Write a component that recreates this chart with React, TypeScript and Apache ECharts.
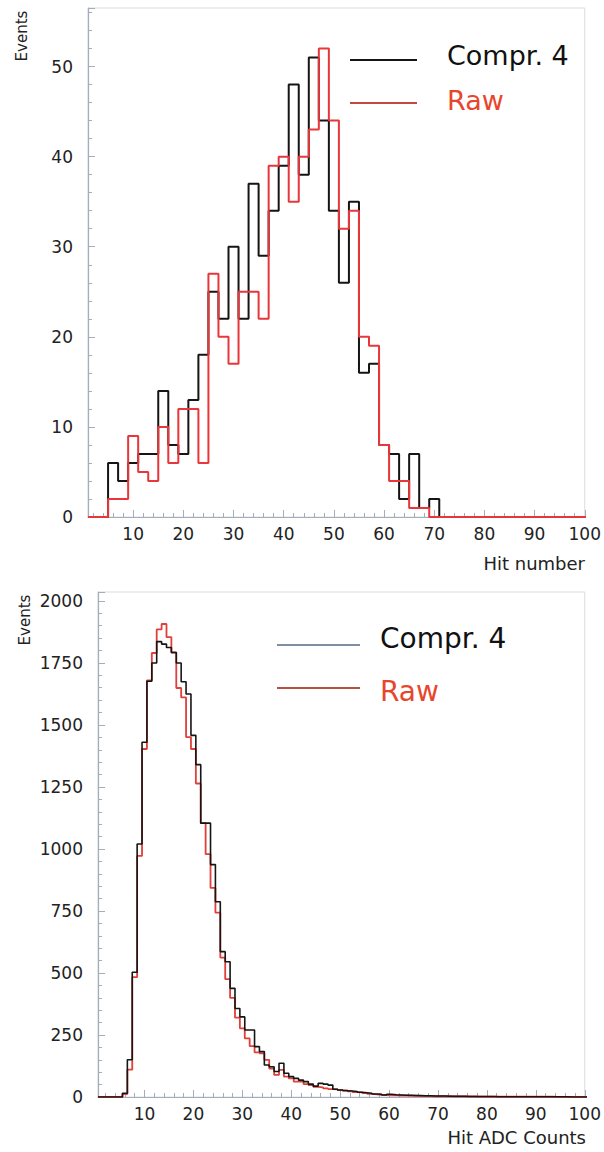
import React, { useEffect, useRef } from "react";
import * as echarts from "echarts";

// ---------- Top panel: hit number histogram (bin width 2, first bin starts at 1) ----------
const topBinStart = 1;
const topBinWidth = 2;
const topCompr = [
  0, 0, 6, 4, 6, 7, 7, 14, 8, 7,
  13, 18, 25, 22, 30, 22, 37, 29, 34, 39,
  48, 38, 51, 44, 34, 26, 35, 16, 17, 8,
  7, 2, 7, 1, 2, 0, 0, 0, 0, 0,
  0, 0, 0, 0, 0, 0, 0, 0, 0, 0,
];
const topRaw = [
  0, 0, 2, 2, 9, 5, 4, 10, 6, 12,
  12, 6, 27, 20, 17, 25, 25, 22, 39, 40,
  35, 40, 43, 52, 44, 32, 34, 20, 19, 8,
  4, 4, 1, 1, 0, 0, 0, 0, 0, 0,
  0, 0, 0, 0, 0, 0, 0, 0, 0, 0,
];

// ---------- Bottom panel: hit ADC counts histogram (bin width 1, centred on integers 1..100) ----------
const botBinStart = 0.5;
const botBinWidth = 1;
const botCompr = [
  0, 0, 0, 0, 0, 15, 150, 503, 1020, 1430,
  1676, 1750, 1836, 1826, 1812, 1792, 1750, 1674, 1625, 1458,
  1340, 1104, 1104, 937, 787, 586, 545, 438, 357, 323,
  270, 270, 203, 183, 129, 122, 103, 136, 96, 82,
  75, 68, 62, 52, 44, 55, 52, 48, 31, 28,
  25, 24, 22, 19, 17, 15, 12, 11, 8, 11,
  9, 8, 7, 7, 6, 6, 5, 5, 4, 4,
  4, 3, 3, 3, 3, 2, 2, 2, 2, 2,
  2, 1, 1, 1, 1, 1, 1, 1, 1, 1,
  1, 1, 1, 1, 1, 1, 0, 0, 0, 0,
];
const botRaw = [
  0, 0, 0, 0, 0, 12, 110, 483, 972, 1403,
  1680, 1790, 1885, 1907, 1854, 1792, 1649, 1611, 1451, 1403,
  1264, 1104, 979, 843, 743, 562, 475, 400, 320, 277,
  236, 205, 180, 176, 150, 115, 89, 109, 82, 75,
  62, 62, 52, 48, 41, 39, 35, 32, 31, 28,
  27, 23, 20, 19, 16, 13, 11, 9, 8, 7,
  7, 6, 6, 5, 5, 4, 4, 4, 3, 3,
  3, 3, 2, 2, 2, 2, 2, 1, 1, 1,
  1, 1, 1, 1, 1, 1, 1, 1, 1, 1,
  1, 1, 1, 0, 0, 0, 0, 0, 0, 0,
];

const seriesNames = ["Compr. 4", "Raw"];
const topXTitle = "Hit number";
const botXTitle = "Hit ADC Counts";
const yTitle = "Events";

function histPoints(values: number[], start: number, width: number) {
  const pts: number[][] = values.map((v, i) => [start + i * width, v]);
  pts.push([start + values.length * width, values[values.length - 1]]);
  return pts;
}

const FONT = "DejaVu Sans";
const AXIS_COL = "#a3adbb";

function xAxisCfg(gridIndex: number, min: number) {
  return {
    type: "value",
    gridIndex,
    min,
    max: 100,
    splitNumber: 10,
    axisLine: { show: true, lineStyle: { color: AXIS_COL, width: 1.2 } },
    axisTick: { show: true, inside: true, length: 7, lineStyle: { color: AXIS_COL } },
    minorTick: { show: true, splitNumber: 5, length: 4, lineStyle: { color: AXIS_COL } },
    splitLine: { show: false },
    axisLabel: {
      showMinLabel: false,
      fontSize: 17,
      color: "#222",
      fontFamily: FONT,
      margin: 8,
      formatter: (v: number) => String(v),
    },
  };
}

function yAxisCfg(gridIndex: number, max: number, interval: number) {
  return {
    type: "value",
    gridIndex,
    min: 0,
    max,
    interval,
    axisLine: { show: true, lineStyle: { color: AXIS_COL, width: 1.2 } },
    axisTick: { show: true, inside: true, length: 7, lineStyle: { color: AXIS_COL } },
    minorTick: { show: true, splitNumber: 5, length: 4, lineStyle: { color: AXIS_COL } },
    splitLine: { show: false },
    axisLabel: {
      showMaxLabel: false,
      fontSize: 17,
      color: "#222",
      fontFamily: FONT,
      margin: 15,
      formatter: (v: number) => String(v),
    },
  };
}

export default function App() {
  const ref = useRef<HTMLDivElement>(null);

  useEffect(() => {
    if (!ref.current) return;
    const chart = echarts.init(ref.current, undefined, { renderer: "svg" });

    const option = {
      animation: false,
      backgroundColor: "#ffffff",
      grid: [
        { left: 88, top: 8, width: 497, height: 509, show: true, borderColor: "#dcdcdc", borderWidth: 1, backgroundColor: "transparent" },
        { left: 98, top: 592, width: 488, height: 505, show: true, borderColor: "#dcdcdc", borderWidth: 1, backgroundColor: "transparent" },
      ],
      xAxis: [xAxisCfg(0, 1), xAxisCfg(1, 0.5)],
      yAxis: [yAxisCfg(0, 56.5, 10), yAxisCfg(1, 2036, 250)],
      series: [
        {
          name: seriesNames[0],
          type: "line",
          xAxisIndex: 0,
          yAxisIndex: 0,
          step: "end",
          symbol: "none",
          lineStyle: { color: "#151515", width: 2 },
          data: histPoints(topCompr, topBinStart, topBinWidth),
          z: 2,
        },
        {
          name: seriesNames[1],
          type: "line",
          xAxisIndex: 0,
          yAxisIndex: 0,
          step: "end",
          symbol: "none",
          lineStyle: { color: "#e8373a", width: 2 },
          data: histPoints(topRaw, topBinStart, topBinWidth),
          z: 3,
        },
        {
          name: seriesNames[1],
          type: "line",
          xAxisIndex: 1,
          yAxisIndex: 1,
          step: "end",
          symbol: "none",
          lineStyle: { color: "#e0403a", width: 1.8 },
          data: histPoints(botRaw, botBinStart, botBinWidth),
          z: 2,
        },
        {
          name: seriesNames[0],
          type: "line",
          xAxisIndex: 1,
          yAxisIndex: 1,
          step: "end",
          symbol: "none",
          lineStyle: { color: "#151515", width: 1.6 },
          data: histPoints(botCompr, botBinStart, botBinWidth),
          z: 3,
        },
      ],
      graphic: [
        // top legend
        { type: "line", shape: { x1: 350, y1: 60, x2: 417, y2: 60 }, style: { stroke: "#151515", lineWidth: 2 } },
        { type: "line", shape: { x1: 350, y1: 103, x2: 417, y2: 103 }, style: { stroke: "#c4483e", lineWidth: 2 } },
        { type: "text", x: 447, y: 55, style: { text: seriesNames[0], fontSize: 27, fontFamily: FONT, fill: "#111", align: "left", verticalAlign: "middle" } },
        { type: "text", x: 447, y: 100, style: { text: seriesNames[1], fontSize: 27, fontFamily: FONT, fill: "#e8452c", align: "left", verticalAlign: "middle" } },
        // bottom legend
        { type: "line", shape: { x1: 277, y1: 645, x2: 360, y2: 645 }, style: { stroke: "#7f8ea2", lineWidth: 2 } },
        { type: "line", shape: { x1: 277, y1: 688, x2: 360, y2: 688 }, style: { stroke: "#b9503f", lineWidth: 2 } },
        { type: "text", x: 380, y: 638, style: { text: seriesNames[0], fontSize: 28, fontFamily: FONT, fill: "#111", align: "left", verticalAlign: "middle" } },
        { type: "text", x: 380, y: 691, style: { text: seriesNames[1], fontSize: 28, fontFamily: FONT, fill: "#e8452c", align: "left", verticalAlign: "middle" } },
        // axis titles
        { type: "text", x: 585, y: 563, style: { text: topXTitle, fontSize: 18, fontFamily: FONT, fill: "#222", align: "right", verticalAlign: "middle" } },
        { type: "text", x: 586, y: 1137, style: { text: botXTitle, fontSize: 18, fontFamily: FONT, fill: "#222", align: "right", verticalAlign: "middle" } },
        { type: "text", x: 22, y: 36, rotation: Math.PI / 2, style: { text: yTitle, fontSize: 15, fontFamily: FONT, fill: "#222", align: "center", verticalAlign: "middle" } },
        { type: "text", x: 25, y: 620, rotation: Math.PI / 2, style: { text: yTitle, fontSize: 15, fontFamily: FONT, fill: "#222", align: "center", verticalAlign: "middle" } },
      ],
    };

    chart.setOption(option as any);
    return () => chart.dispose();
  }, []);

  return (
    <div
      ref={ref}
      style={{ position: "fixed", left: 0, top: 0, width: 604, height: 1152, background: "#fff" }}
    />
  );
}
